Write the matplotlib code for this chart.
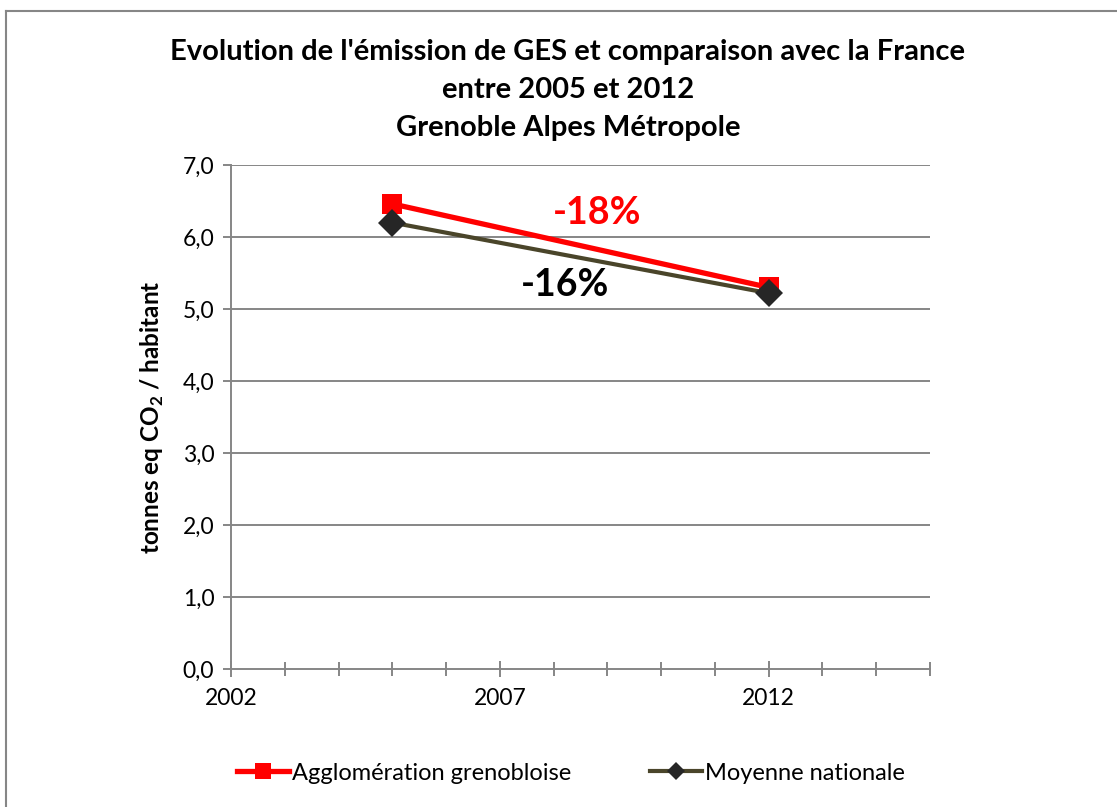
import numpy as np
from matplotlib import pyplot as plt
from matplotlib.lines import Line2D

## data
years = [2005, 2012]
agglo = [6.46, 5.30]      # Agglomération grenobloise
national = [6.20, 5.22]   # Moyenne nationale
labels = ['Agglomération grenobloise', 'Moyenne nationale']
changes = ['-18%', '-16%']

yticks = np.arange(0, 8, 1)
xmajor = [2002, 2007, 2012]

plt.rcParams['font.family'] = ['Lato', 'DejaVu Sans']

W, H = 1117, 807
fig = plt.figure(figsize=(W/100., H/100.), dpi=100)

ax = fig.add_axes([231./W, 1-669./H, (930.-231.)/W, (669.-165.)/H])

grey = '#868686'
for y in yticks[1:]:
    ax.axhline(y, color=grey, lw=1.4, zorder=1)

ax.plot(years, agglo, color='#ff0000', lw=3.8, marker='s', ms=14.5, mew=0, zorder=3, label=labels[0])
ax.plot(years, national, color='#4a452a', lw=3.0, marker='D', ms=14, mew=0, mfc='#262626', zorder=4, label=labels[1])

ax.set_xlim(2002, 2015)
ax.set_ylim(0, 7)
ax.set_yticks(yticks)
ax.set_yticklabels([('%.1f' % v).replace('.', ',') for v in yticks])
ax.set_xticks(xmajor)
ax.set_xticks(np.arange(2002, 2016, 1), minor=True)
ax.set_xticklabels([str(x) for x in xmajor])

for s in ['top', 'right']:
    ax.spines[s].set_visible(False)
for s in ['left', 'bottom']:
    ax.spines[s].set_color(grey)
    ax.spines[s].set_linewidth(1.4)

ax.tick_params(axis='y', direction='out', length=6, width=1.4, color=grey, labelsize=16.5, pad=6)
ax.tick_params(axis='x', which='major', direction='inout', length=12, width=1.4, color=grey, labelsize=16.5, pad=8)
ax.tick_params(axis='x', which='minor', direction='inout', length=10, width=1.4, color=grey)

ax.set_ylabel('tonnes eq CO$_\\mathregular{2}$ / habitant', fontsize=17.5, fontweight='bold', labelpad=12)

## percent change labels
ax.text(2008.81, 6.33, changes[0], color='#ff0000', fontsize=27, fontweight='bold', ha='center', va='center')
ax.text(2008.21, 5.33, changes[1], color='black', fontsize=27, fontweight='bold', ha='center', va='center')

## title
titles = ["Evolution de l'émission de GES et comparaison avec la France", 'entre 2005 et 2012', 'Grenoble Alpes Métropole']
for i, t in enumerate(titles):
    fig.text(568./W, 1-(52.+38*i)/H, t, fontsize=21, fontweight='bold', ha='center', va='center')

## legend
handles = [Line2D([], [], color='#ff0000', lw=3.8, marker='s', ms=12, mew=0),
           Line2D([], [], color='#4a452a', lw=3.0, marker='D', ms=9, mew=0, mfc='#262626')]
fig.legend(handles, labels, loc='center', bbox_to_anchor=(571./W, 1-773./H), ncol=2, frameon=False,
           fontsize=17, handlelength=2.2, handletextpad=0.15, columnspacing=3.3)

## outer border
fig.add_artist(Line2D([5.5/W, 5.5/W], [0, 1-10.5/H], color=grey, lw=1.5))
fig.add_artist(Line2D([5.5/W, 1], [1-10.5/H, 1-10.5/H], color=grey, lw=1.5))

fig.savefig('out.png', dpi=100)
